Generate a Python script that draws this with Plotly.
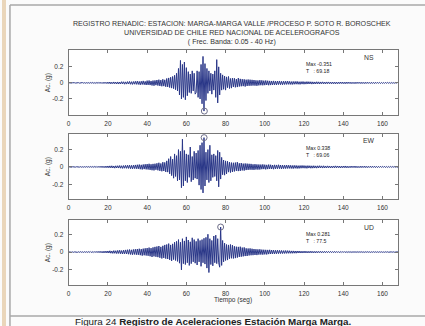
import numpy as np
import plotly.graph_objects as go

W, H = 425, 326
DT = 0.5  # sampling step of the listed values (s)

# Accelerations in milli-g, one value every 0.5 s from t = 0 to 168 s
ns_mg = [
    2,-2,3,-2,2,-3,2,-2,3,-2,
    3,-3,2,-3,4,-3,3,-4,3,-3,
    4,-5,5,-4,6,-5,4,-6,5,-5,
    7,-6,8,-7,6,-8,9,-7,8,-9,
    10,-9,11,-12,9,-10,12,-11,10,-13,
    12,-14,11,-13,15,-12,14,-16,13,-15,
    16,-14,18,-17,15,-19,17,-16,20,-18,
    22,-19,18,-24,21,-20,25,-22,19,-26,
    28,-25,30,-27,24,-32,29,-35,31,-28,
    36,-33,40,-38,35,-42,45,-40,38,-48,
    55,-50,62,-58,70,-65,80,-72,95,-85,
    120,-100,180,-150,280,-200,230,-180,260,-210,
    190,-160,140,-120,110,-130,150,-100,120,-140,
    -120,150,-180,140,-200,230,-260,330,-351,240,
    -220,180,-130,150,-100,120,-140,110,-90,150,
    -180,290,-250,200,-150,120,-90,100,-80,85,
    -90,75,-60,80,-70,55,-65,60,-50,58,
    -55,48,-52,60,-45,50,-42,46,-40,44,
    -45,40,-38,42,-36,40,-35,38,-33,36,
    -34,32,-36,30,-31,34,-29,32,-30,28,
    -28,30,-26,27,-29,25,-27,24,-26,25,
    -24,22,-25,23,-21,24,-22,20,-23,21,
    -20,21,-19,22,-18,20,-19,17,-20,18,
    -17,18,-16,19,-17,15,-18,16,-15,17,
    -16,14,-15,16,-14,15,-13,14,-15,13,
    -14,12,-13,14,-12,13,-14,12,-11,13,
    -12,11,-13,12,-10,12,-11,10,-12,11,
    -11,10,-12,10,-11,9,-10,11,-9,10,
    -10,9,-11,10,-9,10,-8,9,-10,8,
    -9,8,-10,9,-8,9,-7,8,-9,8,
    -8,7,-9,8,-7,8,-7,6,-8,7,
    -7,6,-8,7,-6,7,-6,6,-7,5,
    -6,5,-7,6,-5,6,-5,5,-6,5,
    -5,4,-5,4,-4,5,3,
]
ew_mg = [
    2,-2,2,-3,2,-2,3,-2,2,-2,
    3,-2,3,-3,2,-3,3,-3,4,-3,
    4,-4,5,-4,5,-5,6,-5,6,-6,
    7,-6,8,-7,9,-8,8,-9,10,-9,
    11,-10,12,-11,13,-12,11,-14,13,-12,
    14,-13,16,-15,14,-17,16,-15,18,-16,
    19,-17,21,-20,18,-22,20,-19,23,-21,
    25,-22,27,-26,24,-29,28,-25,31,-28,
    33,-30,36,-34,31,-38,35,-40,37,-33,
    42,-39,48,-45,40,-50,55,-47,52,-58,
    70,-60,95,-80,120,-100,90,-130,150,-110,
    130,-160,200,-150,180,-240,320,-220,190,-160,
    150,-180,140,-120,230,-170,120,-150,180,-130,
    160,-140,190,-210,250,-260,280,-300,338,-220,
    170,-150,200,-180,250,-160,140,-120,150,-110,
    130,-160,190,-230,170,-140,110,-90,80,-95,
    70,-80,65,-60,55,-65,50,-58,48,-52,
    50,-45,55,-48,42,-46,45,-40,38,-42,
    40,-36,38,-34,36,-32,35,-33,30,-34,
    32,-30,29,-31,28,-30,27,-26,29,-25,
    26,-28,24,-25,27,-23,25,-24,22,-26,
    24,-22,23,-21,25,-20,22,-23,21,-20,
    20,-19,21,-18,20,-17,19,-18,17,-19,
    18,-16,17,-18,15,-17,16,-15,17,-14,
    16,-15,14,-16,15,-13,14,-15,13,-14,
    14,-13,12,-14,13,-12,14,-11,12,-13,
    13,-12,11,-12,12,-10,11,-12,10,-11,
    11,-10,12,-10,11,-9,10,-11,9,-10,
    10,-9,11,-10,9,-10,8,-9,10,-8,
    9,-8,10,-9,8,-9,7,-8,9,-8,
    8,-7,9,-8,7,-8,7,-6,8,-7,
    7,-6,8,-7,6,-7,6,-6,7,-5,
    6,-5,7,-6,5,-6,5,-5,6,-5,
    5,-4,5,-4,4,-5,3,
]
ud_mg = [
    2,-2,3,-2,2,-3,2,-2,2,-3,
    3,-3,4,-3,3,-4,4,-3,4,-4,
    5,-4,6,-5,5,-6,6,-5,7,-6,
    8,-7,9,-8,8,-10,10,-9,11,-10,
    12,-11,14,-13,12,-15,16,-14,15,-17,
    18,-16,20,-19,17,-22,21,-20,24,-22,
    26,-24,28,-27,25,-30,29,-27,32,-30,
    34,-31,37,-35,33,-40,38,-36,42,-39,
    45,-42,50,-47,44,-55,52,-48,58,-53,
    62,-57,68,-64,58,-72,70,-66,80,-74,
    85,-78,95,-88,80,-100,92,-85,110,-95,
    120,-105,140,-125,110,-200,150,-130,125,-140,
    170,-120,135,-150,115,-130,160,-110,140,-125,
    120,-145,150,-110,130,-160,140,-120,155,-135,
    165,-180,200,-230,150,-140,130,-155,180,-120,
    190,-130,150,-120,-170,281,-150,130,-110,100,
    -95,85,-90,80,-75,85,-70,78,-72,65,
    -68,60,-62,58,-55,60,-52,50,-48,52,
    -45,42,-44,40,-38,41,-36,37,-35,34,
    -33,32,-34,30,-29,31,-28,27,-29,26,
    -26,25,-27,24,-23,25,-22,23,-21,22,
    -21,20,-19,21,-18,19,-17,18,-17,16,
    -16,17,-15,16,-14,15,-14,13,-14,13,
    -13,12,-13,12,-11,12,-11,10,-11,10,
    -10,11,-10,9,-10,9,-9,10,-9,8,
    -9,8,-9,8,-8,8,-7,8,-8,7,
    -7,8,-7,7,-6,7,-6,7,-6,6,
    -6,7,-6,6,-5,6,-6,5,-5,6,
    -5,6,-5,5,-5,5,-4,5,-5,4,
    -4,5,-4,4,-4,5,-4,4,-3,4,
    -4,3,-4,4,-3,4,-3,3,-4,3,
    -3,4,-3,3,-3,3,-3,3,-2,3,
    -3,2,-3,3,-2,3,-2,2,-3,2,
    -2,3,-2,2,-2,2,1,
]

components = ["NS", "EW", "UD"]
peak_values = [-0.351, 0.338, 0.281]
peak_times = [69.18, 69.06, 77.5]
peak_time_labels = ["69.18", "69.06", "77.5"]
y_ranges = [[-0.40, 0.41], [-0.37, 0.38], [-0.37, 0.36]]
x_ticks = [0, 20, 40, 60, 80, 100, 120, 140, 160]
y_ticks = [-0.2, 0, 0.2]
y_tick_labels = ["-0.2", "0", "0.2"]

title_lines = [
    "REGISTRO RENADIC: ESTACION: MARGA-MARGA VALLE /PROCESO P. SOTO R. BOROSCHEK",
    "UNIVERSIDAD DE CHILE RED NACIONAL DE ACELEROGRAFOS",
    "( Frec. Banda: 0.05 - 40 Hz)",
]
x_title = "Tiempo (seg)"
y_title = "Ac. (g)"
caption_plain = "Figura 24 "
caption_bold = "Registro de Aceleraciones Estación Marga Marga."


def px(x):
    return x / W


def py(y):
    return 1 - y / H


FONT = "Liberation Sans, Arial, sans-serif"
TRACE_COLOR = "#2a3788"
AXIS_COLOR = "#777777"
TEXT_COLOR = "#333333"

series = [ns_mg, ew_mg, ud_mg]
# panel pixel boxes: (top, bottom)
panels = [(50, 115), (134, 199), (220, 285)]
x_left, x_right = 67, 398

fig = go.Figure()
annotations = []
for i, (name, vals) in enumerate(zip(components, series)):
    n = len(vals)
    t = np.arange(n) * DT
    a = np.array(vals) / 1000.0
    ax = "" if i == 0 else str(i + 1)
    fig.add_trace(go.Scatter(
        x=t, y=a, mode="lines",
        line=dict(color=TRACE_COLOR, width=1),
        xaxis="x" + ax, yaxis="y" + ax, showlegend=False, hoverinfo="skip",
    ))
    fig.add_trace(go.Scatter(
        x=[peak_times[i]], y=[peak_values[i]], mode="markers",
        marker=dict(symbol="circle-open", size=6, color="#6f6f8a",
                    line=dict(width=1)),
        xaxis="x" + ax, yaxis="y" + ax, showlegend=False, hoverinfo="skip",
    ))
    top, bot = panels[i]
    dom_y = [py(bot), py(top)]
    dom_x = [px(x_left), px(x_right)]
    axis_common = dict(
        showline=True, linecolor=AXIS_COLOR, linewidth=1, mirror="ticks",
        ticks="inside", ticklen=3, tickcolor=AXIS_COLOR, showgrid=False,
        zeroline=False, color=TEXT_COLOR,
        tickfont=dict(family=FONT, size=6.5, color=TEXT_COLOR),
    )
    fig.update_layout(**{
        "xaxis" + ax: dict(domain=dom_x, range=[0, 168], tickvals=x_ticks,
                           anchor="y" + ax, ticklabelstandoff=2, **axis_common),
        "yaxis" + ax: dict(domain=dom_y, range=y_ranges[i], tickvals=y_ticks,
                           ticktext=y_tick_labels, anchor="x" + ax,
                           ticklabelstandoff=3, **axis_common),
    })
    # component label and peak info
    annotations.append(dict(
        x=px(369), y=py(top + 7), xref="paper", yref="paper",
        text=name, showarrow=False, xanchor="center", yanchor="middle",
        font=dict(family=FONT, size=6.8, color=TEXT_COLOR)))
    annotations.append(dict(
        x=px(303), y=py(top + 17), xref="paper", yref="paper",
        text=f"Max {peak_values[i]:.3f}<br>T   : {peak_time_labels[i]}",
        showarrow=False, xanchor="left", align="left",
        yanchor="middle", font=dict(family=FONT, size=5.2, color="#222222")))
    annotations.append(dict(
        x=px(46), y=(dom_y[0] + dom_y[1]) / 2, xref="paper", yref="paper",
        text=y_title, showarrow=False, textangle=-90, xanchor="center",
        yanchor="middle", font=dict(family=FONT, size=6.5, color=TEXT_COLOR)))

annotations.append(dict(
    x=px(231), y=py(33), xref="paper", yref="paper",
    text="<br>".join(title_lines),
    showarrow=False, xanchor="center", yanchor="middle", align="center",
    font=dict(family=FONT, size=7.1, color=TEXT_COLOR)))

annotations.append(dict(
    x=px(232), y=py(300), xref="paper", yref="paper", text=x_title,
    showarrow=False, xanchor="center", yanchor="middle",
    font=dict(family=FONT, size=6.5, color=TEXT_COLOR)))
annotations.append(dict(
    x=px(212), y=py(321), xref="paper", yref="paper",
    text=caption_plain + "<b>" + caption_bold + "</b>",
    showarrow=False, xanchor="center", yanchor="middle",
    font=dict(family=FONT, size=9.8, color="#222222")))

shapes = [
    dict(type="rect", xref="paper", yref="paper", x0=0, x1=px(4), y0=0, y1=1,
         fillcolor="#ead6ba", line=dict(width=0), layer="below"),
    dict(type="line", xref="paper", yref="paper", x0=px(8), x1=1,
         y0=py(5), y1=py(5), line=dict(color="#a8a8a8", width=1.5)),
    dict(type="line", xref="paper", yref="paper", x0=px(8), x1=px(8),
         y0=0, y1=py(5), line=dict(color="#a8a8a8", width=1.5)),
    dict(type="line", xref="paper", yref="paper", x0=px(8), x1=1,
         y0=py(316), y1=py(316), line=dict(color="#a8a8a8", width=1.5)),
]

fig.update_layout(
    width=W, height=H, margin=dict(l=0, r=0, t=0, b=0),
    paper_bgcolor="#fbfbfb", plot_bgcolor="white",
    annotations=annotations, shapes=shapes, showlegend=False,
)
fig.write_html(
    "out.html",
    config={"displayModeBar": False},
    post_script="document.body.style.margin='0';document.body.style.overflow='hidden';",
)
